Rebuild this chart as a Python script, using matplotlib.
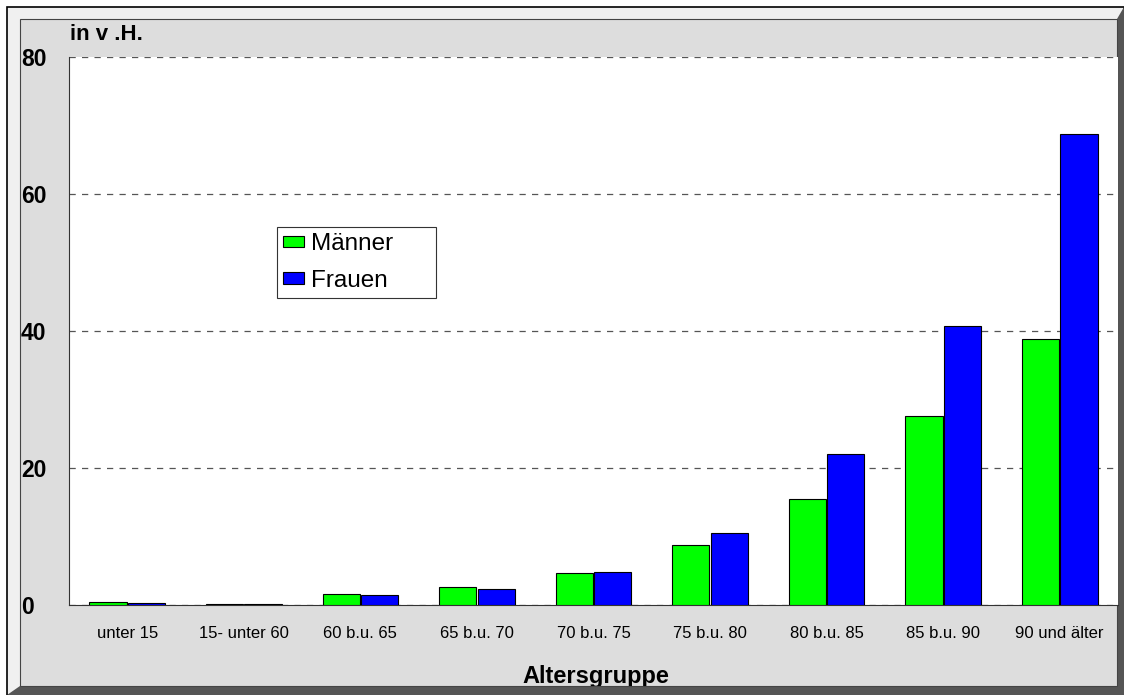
import numpy as np
import matplotlib
matplotlib.use("Agg")
import matplotlib.pyplot as plt
from matplotlib.patches import Polygon, Rectangle

W, H = 1124, 695

categories = ["unter 15", "15- unter 60", "60 b.u. 65", "65 b.u. 70", "70 b.u. 75",
              "75 b.u. 80", "80 b.u. 85", "85 b.u. 90", "90 und älter"]
maenner = [0.5, 0.2, 1.6, 2.6, 4.6, 8.7, 15.5, 27.6, 38.8]
frauen = [0.3, 0.2, 1.5, 2.3, 4.8, 10.5, 22.1, 40.8, 68.8]
yticks = [0, 20, 40, 60, 80]

FONT = "Liberation Sans"


def px(x, y):
    # pixel coords (top-left origin) -> figure fraction
    return (x / W, 1 - y / H)


fig = plt.figure(figsize=(W / 100, H / 100), dpi=100)
fig.patch.set_facecolor("white")

# ---- beveled frame (behind the axes) ------------------------------------
fig.add_artist(Rectangle(px(7, 695), (W - 7) / W, (695 - 7) / H,
                         transform=fig.transFigure, facecolor="#f0f0f0",
                         edgecolor="black", lw=1.2, zorder=-10))
fig.add_artist(Polygon([px(1124, 7), px(1124, 695), px(7, 695), px(20, 686),
                        px(1117, 686), px(1117, 19)], closed=True,
                       transform=fig.transFigure, facecolor="#555555",
                       edgecolor="none", zorder=-9))
panel = Rectangle(px(20, 686), (1117 - 20) / W, (686 - 19) / H,
                  transform=fig.transFigure, facecolor="#dddddd",
                  edgecolor="#444444", lw=0.8, zorder=-8)
fig.add_artist(panel)

# ---- plot ---------------------------------------------------------------
l, r, t, b = 69, 1118, 57, 605
ax = fig.add_axes([l / W, 1 - b / H, (r - l) / W, (b - t) / H])
ax.set_facecolor("white")

x = np.arange(len(categories))
bw = 0.32
ax.bar(x - bw / 2 - 0.005, maenner, bw, color="#00ff00", edgecolor="black",
       lw=0.8, label="Männer", zorder=3)
ax.bar(x + bw / 2 + 0.005, frauen, bw, color="#0000ff", edgecolor="black",
       lw=0.8, label="Frauen", zorder=3)

ax.set_xlim(-0.5, len(categories) - 0.5)
ax.set_ylim(0, 80)
ax.set_yticks(yticks)
ax.yaxis.grid(True, ls=(0, (5, 5)), color="#555555", lw=0.9)
ax.set_axisbelow(True)
for s in ["top", "right"]:
    ax.spines[s].set_visible(False)
ax.spines["left"].set_color("#333333")
ax.spines["bottom"].set_color("#333333")
ax.tick_params(length=0)
ax.set_xticks(x)
ax.set_xticklabels(categories, fontsize=12, family=FONT)
ax.tick_params(axis="x", pad=15)
ax.set_yticklabels([str(v) for v in yticks], fontsize=16.5, fontweight="bold",
                   family=FONT)
for lab in ax.get_yticklabels():
    lab.set_horizontalalignment("left")
ax.tick_params(axis="y", pad=34.5)

fig.text(*px(70, 35), "in v .H.", fontsize=16, fontweight="bold",
         family=FONT, va="center", ha="left")
xlab = fig.text(*px(596, 676), "Altersgruppe", fontsize=17, fontweight="bold",
                family=FONT, va="center", ha="center")
xlab.set_clip_path(panel)

# legend box: left 277, top 227, width 159, height 69 (pixels)
x0 = (277 - l) / (r - l)
y1 = 1 - (227 - t) / (b - t)
w = 159 / (r - l)
h = 69 / (b - t)
leg = ax.legend(loc="upper left", bbox_to_anchor=(x0, y1 - h, w, h), mode="expand",
                fancybox=False, framealpha=1, edgecolor="#333333",
                prop={"family": FONT, "size": 17.5},
                handlelength=0.85, handleheight=0.35, handletextpad=0.3,
                borderpad=0.25, labelspacing=0.6, borderaxespad=0)
leg.get_frame().set_linewidth(0.8)

fig.savefig("out.png", dpi=100)
